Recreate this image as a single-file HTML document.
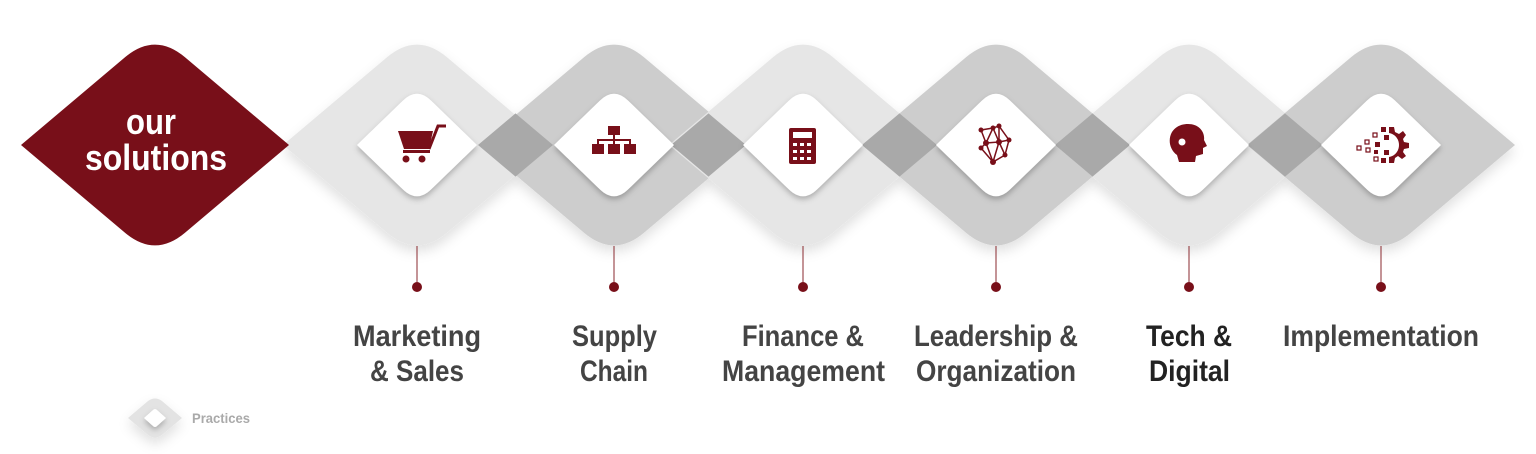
<!DOCTYPE html>
<html><head><meta charset="utf-8"><style>
html,body{margin:0;padding:0;background:#fff;}
svg{display:block;}
text{font-family:"Liberation Sans Narrow","Liberation Sans",sans-serif;font-weight:bold;}
</style></head><body>
<svg width="1536" height="454" viewBox="0 0 1536 454" xmlns="http://www.w3.org/2000/svg">
<defs>
<path id="outer" d="M-134 0 L-30 -87.7 Q0 -113 30 -87.7 L134 0 L30 87.7 Q0 113 -30 87.7 Z"/>
<path id="inner" d="M-60 0 L-14 -44.5 Q0 -58 14 -44.5 L60 0 L14 44.5 Q0 58 -14 44.5 Z"/>
<path id="ov" d="M-37.5 0 L0 -31.6 L37.5 0 L0 31.6 Z"/>
<filter id="sh" x="-30%" y="-30%" width="160%" height="170%"><feDropShadow dx="0" dy="3" stdDeviation="3" flood-color="#000" flood-opacity="0.25"/></filter>
<filter id="sh2" x="-30%" y="-30%" width="160%" height="170%"><feDropShadow dx="0" dy="6" stdDeviation="6" flood-color="#000" flood-opacity="0.12"/></filter>
</defs>
<g filter="url(#sh2)">
<use href="#outer" transform="translate(417,145)" fill="#e6e6e6"/>
<use href="#outer" transform="translate(614,145)" fill="#cdcdcd"/>
<use href="#outer" transform="translate(803,145)" fill="#e6e6e6"/>
<use href="#outer" transform="translate(996,145)" fill="#cdcdcd"/>
<use href="#outer" transform="translate(1189,145)" fill="#e6e6e6"/>
<use href="#outer" transform="translate(1381,145)" fill="#cdcdcd"/>
</g>
<g fill="#a9a9a9">
<use href="#ov" transform="translate(515.5,145)"/>
<use href="#ov" transform="translate(708.5,145)"/>
<use href="#ov" transform="translate(899.5,145)"/>
<use href="#ov" transform="translate(1092.5,145)"/>
<use href="#ov" transform="translate(1285,145)"/>
</g>
<g fill="#fff" filter="url(#sh)">
<use href="#inner" transform="translate(417,145)"/>
<use href="#inner" transform="translate(614,145)"/>
<use href="#inner" transform="translate(803,145)"/>
<use href="#inner" transform="translate(996,145)"/>
<use href="#inner" transform="translate(1189,145)"/>
<use href="#inner" transform="translate(1381,145)"/>
</g>
<use href="#outer" transform="translate(155,145)" fill="#780f19"/>
<text x="126" y="134" font-size="36" fill="#fff" textLength="50" lengthAdjust="spacingAndGlyphs">our</text>
<text x="85" y="170" font-size="36" fill="#fff" textLength="142" lengthAdjust="spacingAndGlyphs">solutions</text>
<g fill="#780f19" stroke="none">
<path d="M398 131 L433 131 L429 149 L404 149 Z"/>
<path d="M429 149 L438 126 L446 126" stroke="#780f19" stroke-width="3" fill="none"/>
<rect x="403" y="150" width="27" height="3"/>
<circle cx="406" cy="159" r="3.5"/><circle cx="422" cy="159" r="3.5"/>
<rect x="608" y="126" width="12" height="9"/>
<rect x="613" y="135" width="2" height="5"/>
<rect x="597" y="139" width="34" height="2"/>
<rect x="597" y="139" width="2" height="5"/><rect x="613" y="139" width="2" height="5"/><rect x="629" y="139" width="2" height="5"/>
<rect x="592" y="144" width="12" height="10"/><rect x="608" y="144" width="12" height="10"/><rect x="624" y="144" width="12" height="10"/>
<rect x="789" y="128" width="27" height="36" rx="2"/>
<g fill="#fff"><rect x="793" y="132" width="19" height="6"/>
<rect x="793" y="143" width="4" height="3"/><rect x="800" y="143" width="4" height="3"/><rect x="807" y="143" width="4" height="3"/>
<rect x="793" y="150" width="4" height="3"/><rect x="800" y="150" width="4" height="3"/><rect x="807" y="150" width="4" height="3"/>
<rect x="793" y="157" width="4" height="3"/><rect x="800" y="157" width="4" height="3"/><rect x="807" y="157" width="4" height="3"/></g>
<g stroke="#780f19" stroke-width="1.5" fill="none">
<path d="M981 130 L993 128 L999 126 L1009 140 L1005 155 L993 162 L986 143 L981 130 M993 128 L986 143 L999 142 L993 128 M999 142 L1009 140 M999 142 L1005 155 M999 142 L993 162 M986 143 L981 148 L993 162 M999 126 L999 142"/>
</g>
<circle cx="981" cy="130" r="2.5"/><circle cx="993" cy="128" r="2.5"/><circle cx="999" cy="126" r="2.5"/><circle cx="1009" cy="140" r="2.5"/><circle cx="1005" cy="155" r="2.5"/><circle cx="993" cy="162" r="3"/><circle cx="986" cy="143" r="3"/><circle cx="999" cy="142" r="3"/><circle cx="981" cy="148" r="2.5"/>
<path d="M1188 124 C1200 124 1205 133 1204 140 L1207 146 L1203 148 L1203 154 L1196 156 L1195 162 L1179 162 L1177 155 C1169 149 1168 139 1172 132 C1176 126 1182 124 1188 124 Z"/>
<circle cx="1182" cy="142" r="3.5" fill="#fff"/>
<path d="M1389 127 L1394 127 L1395 132 L1399 134 L1403 131 L1406 135 L1403 139 L1404 142 L1409 143 L1409 148 L1404 149 L1403 152 L1406 156 L1402 159 L1398 156 L1395 158 L1394 163 L1389 163 L1389 157 C1395 156 1399 151 1399 145 C1399 139 1395 134 1389 133 Z"/>
<rect x="1381" y="127" width="5" height="5"/><rect x="1384" y="135" width="5" height="5"/><rect x="1384" y="150" width="5" height="5"/><rect x="1381" y="158" width="5" height="5"/><rect x="1375" y="142" width="5" height="5"/><rect x="1374" y="150" width="4" height="4"/>
<g fill="none" stroke="#780f19" stroke-width="1.2"><rect x="1373" y="133" width="4" height="4"/><rect x="1365" y="140" width="4" height="4"/><rect x="1357" y="146" width="4" height="4"/><rect x="1366" y="148" width="4" height="4"/><rect x="1374" y="157" width="4" height="4"/></g>
</g>
<g stroke="#8a2a2f" stroke-width="1">
<line x1="417" y1="246" x2="417" y2="287"/><line x1="614" y1="246" x2="614" y2="287"/><line x1="803" y1="246" x2="803" y2="287"/><line x1="996" y1="246" x2="996" y2="287"/><line x1="1189" y1="246" x2="1189" y2="287"/><line x1="1381" y1="246" x2="1381" y2="287"/>
</g>
<g fill="#780f19">
<circle cx="417" cy="287" r="5"/><circle cx="614" cy="287" r="5"/><circle cx="803" cy="287" r="5"/><circle cx="996" cy="287" r="5"/><circle cx="1189" cy="287" r="5"/><circle cx="1381" cy="287" r="5"/>
</g>
<g font-size="30" fill="#444" lengthAdjust="spacingAndGlyphs">
<text x="353" y="346" textLength="128" lengthAdjust="spacingAndGlyphs">Marketing</text><text x="370" y="381" textLength="94" lengthAdjust="spacingAndGlyphs">&amp; Sales</text>
<text x="572" y="346" textLength="85" lengthAdjust="spacingAndGlyphs">Supply</text><text x="580" y="381" textLength="68" lengthAdjust="spacingAndGlyphs">Chain</text>
<text x="742" y="346" textLength="122" lengthAdjust="spacingAndGlyphs">Finance &amp;</text><text x="722" y="381" textLength="163" lengthAdjust="spacingAndGlyphs">Management</text>
<text x="914" y="346" textLength="164" lengthAdjust="spacingAndGlyphs">Leadership &amp;</text><text x="916" y="381" textLength="160" lengthAdjust="spacingAndGlyphs">Organization</text>
<text x="1146" y="346" fill="#222" textLength="86" lengthAdjust="spacingAndGlyphs">Tech &amp;</text><text x="1149" y="381" fill="#222" textLength="81" lengthAdjust="spacingAndGlyphs">Digital</text>
<text x="1283" y="346" textLength="196" lengthAdjust="spacingAndGlyphs">Implementation</text>
</g>
<path d="M128 418 L148 401 Q155 396 162 401 L182 418 L162 435 Q155 440 148 435 Z" fill="#e3e3e3" filter="url(#sh2)"/>
<path d="M144 418 L153 410 Q155 408 157 410 L166 418 L157 426 Q155 428 153 426 Z" fill="#fff" filter="url(#sh)"/>
<text x="192" y="423" font-size="14" fill="#aaa" textLength="58" lengthAdjust="spacingAndGlyphs">Practices</text>
</svg>
</body></html>
